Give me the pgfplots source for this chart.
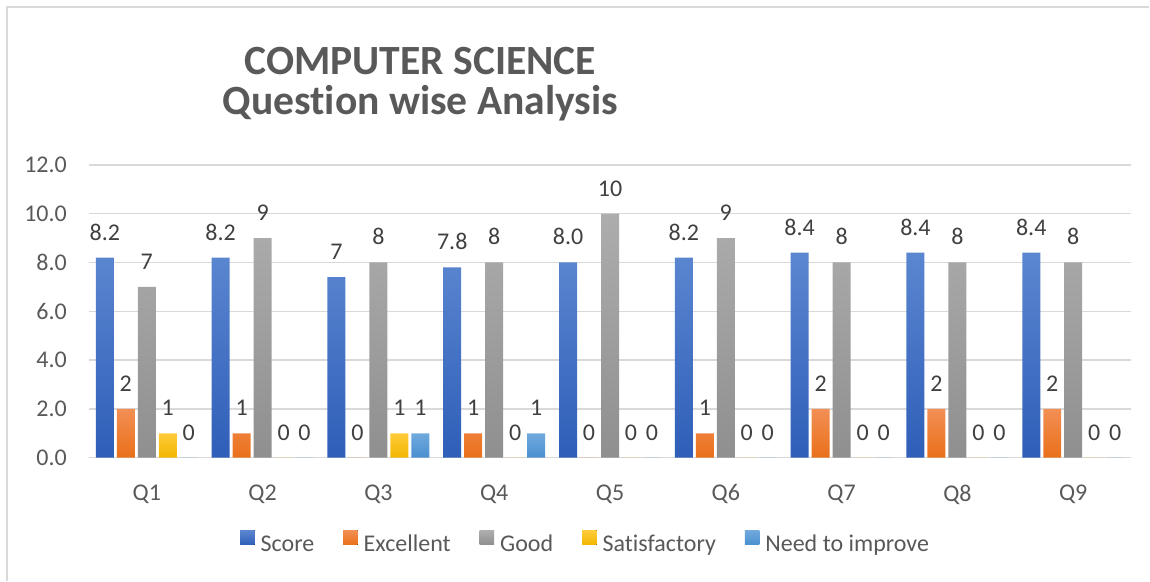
\documentclass[border=0pt]{standalone}
\usepackage{pgfplots}
\pgfplotsset{compat=1.18}
\usepackage{fontspec}
\setmainfont{Carlito}[Ligatures=CommonOff]

\definecolor{scoreTop}{HTML}{5B86D0}
\definecolor{scoreBot}{HTML}{2E5EB8}
\definecolor{excTop}{HTML}{F28F54}
\definecolor{excBot}{HTML}{E9701A}
\definecolor{goodTop}{HTML}{ADADAD}
\definecolor{goodBot}{HTML}{8F8F8F}
\definecolor{satTop}{HTML}{FFCB3A}
\definecolor{satBot}{HTML}{F2B600}
\definecolor{needTop}{HTML}{70AADE}
\definecolor{needBot}{HTML}{4A8FCF}
\definecolor{gridgray}{HTML}{D9D9D9}
\definecolor{textgray}{HTML}{595959}
\definecolor{labelgray}{HTML}{404040}

\begin{document}
\begin{tikzpicture}
\begin{axis}[
  width=521.5pt, height=146.5pt, scale only axis,
  xmin=-0.5, xmax=8.5, ymin=0, ymax=12,
  enlargelimits=false,
  clip=false,
  ybar=1.5pt, bar width=9pt,
  xtick={0,1,2,3,4,5,6,7,8},
  xticklabels={Q1,Q2,Q3,Q4,Q5,Q6,Q7,Q8,Q9},
  ytick={0,2,4,6,8,10,12},
  major tick length=0pt,
  axis line style={draw=none},
  ymajorgrids,
  grid style={color=gridgray, line width=0.75pt},
  /pgf/number format/assume math mode=true,
  yticklabel style={font=\fontsize{12}{14}\selectfont, color=textgray, xshift=-7.5pt,
    /pgf/number format/.cd, fixed, fixed zerofill, precision=1},
  xticklabel style={font=\fontsize{12}{14}\selectfont, color=textgray, yshift=-10pt},
  nodes near coords,
  every node near coord/.append style={font=\fontsize{12}{14}\selectfont, color=labelgray,
    anchor=south, inner sep=0pt, yshift=8.5pt},
  legend columns=-1,
  legend style={at={(0.4775,-0.297)}, anchor=center, draw=none,
    font=\fontsize{12}{14}\selectfont, text=textgray,
    /tikz/every even column/.append style={column sep=12.5pt}},
  legend image code/.code={\fill[#1] (0pt,0pt) rectangle (7.25pt,7.25pt); \path (8.25pt,0pt);},
]
\addplot[draw=none, top color=scoreTop, bottom color=scoreBot,
  point meta=explicit symbolic] coordinates {
  (0,8.2) [8.2] (1,8.2) [8.2] (2,7.4) [7] (3,7.8) [7.8] (4,8.0) [8.0]
  (5,8.2) [8.2] (6,8.4) [8.4] (7,8.4) [8.4] (8,8.4) [8.4]};
\addplot[draw=none, top color=excTop, bottom color=excBot] coordinates {
  (0,2) (1,1) (2,0) (3,1) (4,0) (5,1) (6,2) (7,2) (8,2)};
\addplot[draw=none, top color=goodTop, bottom color=goodBot] coordinates {
  (0,7) (1,9) (2,8) (3,8) (4,10) (5,9) (6,8) (7,8) (8,8)};
\addplot[draw=none, top color=satTop, bottom color=satBot] coordinates {
  (0,1) (1,0) (2,1) (3,0) (4,0) (5,0) (6,0) (7,0) (8,0)};
\addplot[draw=none, top color=needTop, bottom color=needBot] coordinates {
  (0,0) (1,0) (2,1) (3,1) (4,0) (5,0) (6,0) (7,0) (8,0)};
\legend{Score, Excellent, Good, Satisfactory, Need to improve}

\node[anchor=base, font=\bfseries\fontsize{20.8}{24}\selectfont, text=textgray]
  at (rel axis cs:0.318,1.307) {COMPUTER SCIENCE};
\node[anchor=base, font=\bfseries\fontsize{20.8}{24}\selectfont, text=textgray]
  at (rel axis cs:0.318,1.171) {Question wise Analysis};
\draw[color=gridgray, line width=0.85pt]
  (rel axis cs:-0.0786,-0.4198) -- (rel axis cs:-0.0786,1.539) -- (rel axis cs:1.0173,1.539);
\path (rel axis cs:-0.0853,-0.4198) rectangle (rel axis cs:1.0173,1.5631);
\end{axis}
\end{tikzpicture}
\end{document}
